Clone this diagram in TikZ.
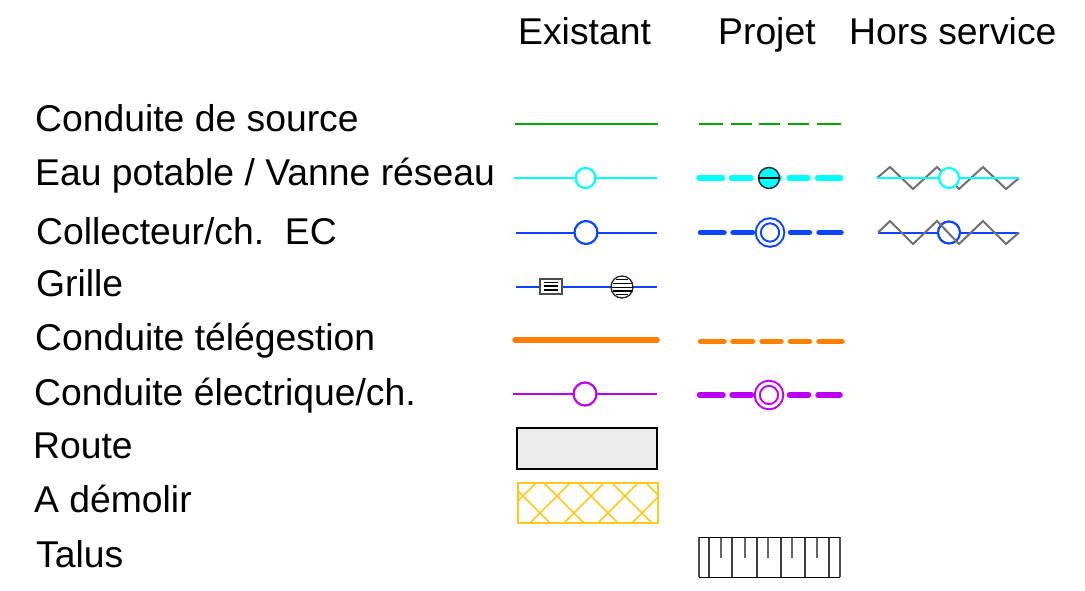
\documentclass[tikz,border=0pt]{standalone}
\usepackage{fontspec}
\setmainfont{Liberation Sans}
\definecolor{vert}{HTML}{00AA00}
\definecolor{cyaneau}{HTML}{00FFFF}
\definecolor{bleu}{HTML}{0A46FF}
\definecolor{orangetg}{HTML}{FF8000}
\definecolor{violet}{HTML}{BB00F5}
\definecolor{jaune}{HTML}{FFC820}
\definecolor{griszig}{HTML}{707070}
\definecolor{route}{HTML}{EDEDED}

\begin{document}
\begin{tikzpicture}[x=1pt,y=-1pt,
    txt/.style={anchor=base west,inner sep=0pt,font=\fontsize{37.3}{42}\selectfont},
    vanne/.style={circle,draw,fill=white,inner sep=0pt,line width=2.2pt,minimum size=#1},
    double vanne/.style={circle,draw,fill=white,inner sep=0pt,line width=2pt,double=white,double distance=3pt,minimum size=#1},
    tirets/.style={line width=5.5pt,line cap=round,dash pattern=on 23.5pt off 9pt on 19.5pt off 9.5pt on 19pt off 9.5pt on 19pt off 9.5pt on 23pt off 9pt}]
\useasboundingbox (0,0) rectangle (1085,590);

% Titres
\node[txt] (existant) at (518,44.5) {Existant};
\node[txt] (projet) at (718,44.5) {Projet};
\node[txt] (hs) at (849,44.5) {Hors service};

% Libelles
\node[txt] (source) at (35,131) {Conduite de source};
\node[txt] (eau) at (35,185) {Eau potable / Vanne réseau};
\node[txt] (ec) at (36,244) {Collecteur/ch.\ \ EC};
\node[txt] (grille) at (36,296) {Grille};
\node[txt] (tele) at (35,350) {Conduite télégestion};
\node[txt] (elec) at (34,405) {Conduite électrique/ch.};
\node[txt] (routelbl) at (33,458) {Route};
\node[txt] (demolir) at (34,512) {A démolir};
\node[txt] (talus) at (36,567) {Talus};

% Conduite de source
\coordinate (s1) at (515,124); \coordinate (s2) at (658,124);
\coordinate (s3) at (699,124); \coordinate (s4) at (841,124);
\draw[vert,line width=1.5pt] (s1) -- (s2);
\draw[vert,line width=1.5pt,dash pattern=on 24pt off 8pt on 21pt off 7pt on 21pt off 8pt on 21pt off 8pt on 24pt off 8pt] (s3) -- (s4);

% Eau potable
\coordinate (e1) at (514,178); \coordinate (e2) at (657,178);
\coordinate (e3) at (699,178); \coordinate (e4) at (841,178);
\draw[cyaneau,line width=2pt] (e1) -- (e2);
\node[vanne=20pt,draw=cyaneau] (ve) at (585.5,178) {};
\draw[cyaneau,tirets] (e3) -- (e4);
\node[circle,draw=black!80,fill=cyaneau,line width=1.5pt,inner sep=0pt,minimum size=21pt] (vp) at (769,178) {};
\draw[black,line width=1.5pt] (vp.west) -- (vp.east);

% Eau potable hors service
\coordinate (z1) at (877,178); \coordinate (z2) at (1019,178);
\draw[griszig,line width=2pt] (z1) -- (890,167) -- (913,189) -- (937,167) -- (959,189) -- (983,167) -- (1006,189) -- (z2);
\draw[cyaneau,line width=2pt] (z1) -- (z2);
\node[vanne=20pt,draw=cyaneau] (vh) at (949,178) {};

% Collecteur EC
\coordinate (c1) at (516,232.5); \coordinate (c2) at (657,232.5);
\coordinate (c3) at (700.5,232.5); \coordinate (c4) at (841,232.5);
\draw[bleu,line width=2pt] (c1) -- (c2);
\node[vanne=23pt,draw=bleu] (vc) at (586,232.5) {};
\draw[bleu,tirets] (c3) -- (c4);
\node[double vanne=23.5pt,draw=bleu] (vd) at (770,232.5) {};

% Collecteur hors service
\coordinate (y1) at (878,232.5); \coordinate (y2) at (1019,232.5);
\draw[bleu,line width=2pt] (y1) -- (y2);
\node[vanne=22pt,draw=bleu] (vi) at (949,232.5) {};
\draw[griszig,line width=2pt] (y1) -- (890,221) -- (913,244) -- (937,221) -- (959,244) -- (983,221) -- (1006,244) -- (y2);

% Grille
\coordinate (g1) at (516,286.5); \coordinate (g2) at (657,286.5);
\draw[bleu,line width=2pt] (g1) -- (g2);
\node[rectangle,draw=black!70,fill=white,line width=1.3pt,inner sep=0pt,minimum width=22pt,minimum height=15pt] (gr) at (551,286.5) {};
\foreach \yy in {282.5,286,290}
  \draw[black,line width=1.2pt] (543.5,\yy) -- (558,\yy);
\node[circle,draw=black!85,fill=white,line width=1.3pt,inner sep=0pt,minimum size=22pt] (gc) at (622,287) {};
\foreach \yy/\xx in {279.5/6,283.5/9.5,287.5/10.5,291/9.5,294.5/6}
  \draw[black,line width=1.2pt] (622-\xx,\yy) -- (622+\xx,\yy);

% Conduite telegestion
\coordinate (t1) at (515,340); \coordinate (t2) at (657,340);
\coordinate (t3) at (700.5,341.5); \coordinate (t4) at (843,341.5);
\draw[orangetg,line width=5.5pt,line cap=round] (t1) -- (t2);
\draw[orangetg,tirets] (t3) -- (t4);

% Conduite electrique
\coordinate (l1) at (513,394); \coordinate (l2) at (657,394);
\coordinate (l3) at (699.5,395); \coordinate (l4) at (840,395);
\draw[violet,line width=2pt] (l1) -- (l2);
\node[vanne=23pt,draw=violet] (vl) at (585,394) {};
\draw[violet,tirets] (l3) -- (l4);
\node[double vanne=23.5pt,draw=violet] (vm) at (769,395) {};

% Route
\draw[black,line width=2pt,fill=route] (517,428) rectangle (657,469);

% A demolir
\begin{scope}
\clip (518,483) rectangle (658,523);
\foreach \cc in {27,61,95,129,163}
  \draw[jaune,line width=1.5pt] (\cc+470,470) -- (\cc+540,540);
\foreach \cc in {1019,1053,1087,1121,1155}
  \draw[jaune,line width=1.5pt] (\cc-470,470) -- (\cc-540,540);
\end{scope}
\draw[jaune,line width=1.7pt] (518,483) rectangle (658,523);

% Talus
\foreach \xx in {709,732,757,781,805,829}
  \draw[black!75,line width=1.3pt] (\xx,537) -- (\xx,577);
\foreach \xx in {721,745,768,792,817}
  \draw[black!60,line width=1.5pt] (\xx,537) -- (\xx,558);
\draw[black!70,line width=1.3pt] (699,537) -- (699,577) (840,537) -- (840,577);
\draw[black,line width=1pt] (699,537) -- (840,537) (699,577) -- (840,577);
\end{tikzpicture}
\end{document}
